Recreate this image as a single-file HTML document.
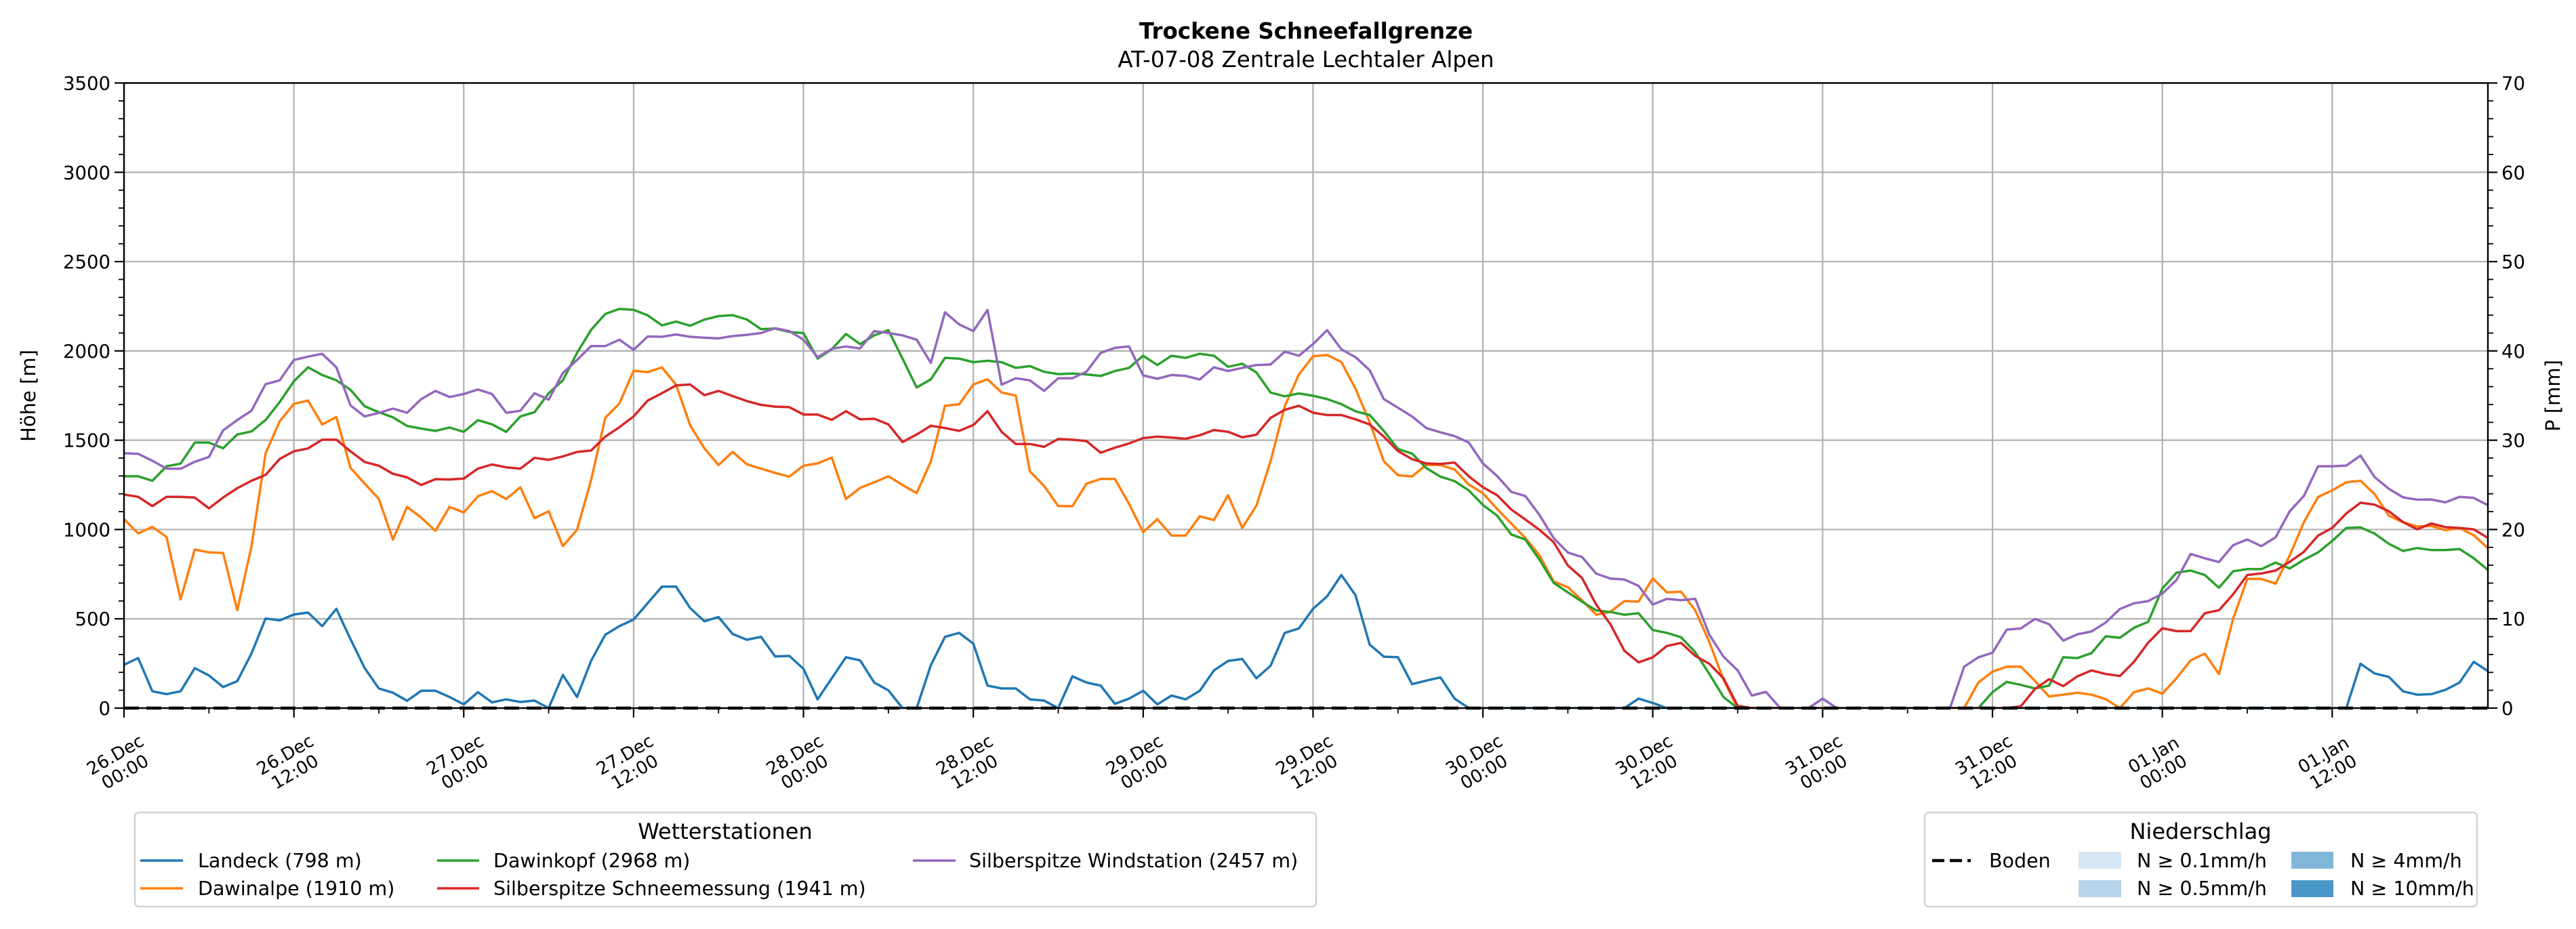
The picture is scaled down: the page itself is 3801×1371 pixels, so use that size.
<!DOCTYPE html>
<html><head><meta charset="utf-8">
<style>
html,body{margin:0;padding:0;background:#fff;}
svg{display:block;font-family:"DejaVu Sans","Liberation Sans",sans-serif;}
</style></head>
<body>
<svg id="chart" width="3801" height="1371" viewBox="0 0 3801 1371" xmlns="http://www.w3.org/2000/svg">
<rect x="0" y="0" width="3801" height="1371" fill="#fff"/>
<text x="1927" y="57" text-anchor="middle" font-size="32.5" font-weight="bold">Trockene Schneefallgrenze</text>
<text x="1927" y="99" text-anchor="middle" font-size="32.5">AT-07-08 Zentrale Lechtaler Alpen</text>
<defs><clipPath id="plotclip"><rect x="183" y="122" width="3488" height="923"/></clipPath></defs>
<g id="grid"></g>
<g id="series" clip-path="url(#plotclip)"></g>
<line x1="183" y1="1045" x2="3671" y2="1045" stroke="#000" stroke-width="4.5" stroke-dasharray="22,11"/>
<g id="axes"></g>
<text transform="translate(52,584) rotate(-90)" text-anchor="middle" font-size="29">Höhe [m]</text>
<text transform="translate(3777,584) rotate(-90)" text-anchor="middle" font-size="29">P [mm]</text>

<g>
<rect x="199" y="1199" width="1743" height="139" rx="6" fill="#fff" stroke="#d4d4d4" stroke-width="2.5"/>
<text x="1070" y="1238" text-anchor="middle" font-size="32">Wetterstationen</text>
<g><line x1="207" y1="1270" x2="270" y2="1270" stroke="#1f77b4" stroke-width="3.5"/><text x="292" y="1280" font-size="28.5">Landeck (798 m)</text></g>
<g><line x1="207" y1="1311" x2="270" y2="1311" stroke="#ff7f0e" stroke-width="3.5"/><text x="292" y="1321" font-size="28.5">Dawinalpe (1910 m)</text></g>
<g><line x1="645" y1="1270" x2="707" y2="1270" stroke="#2ca02c" stroke-width="3.5"/><text x="728" y="1280" font-size="28.5">Dawinkopf (2968 m)</text></g>
<g><line x1="645" y1="1311" x2="707" y2="1311" stroke="#d62728" stroke-width="3.5"/><text x="728" y="1321" font-size="28.5">Silberspitze Schneemessung (1941 m)</text></g>
<g><line x1="1347" y1="1270" x2="1410" y2="1270" stroke="#9467bd" stroke-width="3.5"/><text x="1430" y="1280" font-size="28.5">Silberspitze Windstation (2457 m)</text></g>
</g>

<g>
<rect x="2840" y="1199" width="815" height="139" rx="6" fill="#fff" stroke="#d4d4d4" stroke-width="2.5"/>
<text x="3247" y="1238" text-anchor="middle" font-size="32">Niederschlag</text>
<g><line x1="2851" y1="1270" x2="2908" y2="1270" stroke="#000" stroke-width="4.5" stroke-dasharray="18,8"/><text x="2935" y="1280" font-size="28.5">Boden</text></g>
<g><rect x="3067" y="1257" width="63" height="25" fill="#d6e6f4"/><text x="3153" y="1280" font-size="28.5">N ≥ 0.1mm/h</text></g>
<g><rect x="3067" y="1299" width="63" height="25" fill="#b7d4ea"/><text x="3153" y="1321" font-size="28.5">N ≥ 0.5mm/h</text></g>
<g><rect x="3381" y="1257" width="62" height="25" fill="#80b7d9"/><text x="3468" y="1280" font-size="28.5">N ≥ 4mm/h</text></g>
<g><rect x="3381" y="1299" width="62" height="25" fill="#4a98c9"/><text x="3468" y="1321" font-size="28.5">N ≥ 10mm/h</text></g>
</g>
</svg>
<script>
const xTickLabels = ["26.Dec|00:00","26.Dec|12:00","27.Dec|00:00","27.Dec|12:00","28.Dec|00:00","28.Dec|12:00","29.Dec|00:00","29.Dec|12:00","30.Dec|00:00","30.Dec|12:00","31.Dec|00:00","31.Dec|12:00","01.Jan|00:00","01.Jan|12:00"];
const yTicks = [0,500,1000,1500,2000,2500,3000,3500];
const y2Ticks = [0,10,20,30,40,50,60,70];
const landeck = [243,280,94,78,94,224,183,118,151,305,502,491,524,535,459,556,386,224,110,86,41,97,97,62,21,89,32,49,34,42,0,186,62,265,411,459,496,588,680,680,560,486,
510,415,383,399,289,292,220,49,167,285,267,143,99,0,0,240,399,421,361,126,110,110,49,42,0,178,143,126,24,53,97,21,70,49,97,211,264,275,167,237,421,446,
556,626,745,632,356,288,285,134,154,172,53,0,0,0,0,0,0,0,0,0,0,0,0,53,29,0,0,0,0,0,0,0,0,0,0,0,0,0,0,0,0,0,
0,0,0,0,0,0,0,0,0,0,0,0,0,0,0,0,0,0,0,0,0,0,0,0,0,0,0,0,0,0,0,0,248,194,175,94,75,78,102,143,259,207];
const dawinalpe = [1058,978,1015,958,609,888,872,869,548,904,1426,1606,1703,1722,1588,1630,1345,1257,1171,944,1127,1066,993,1127,1095,1186,1215,1171,1236,1063,1102,907,998,1277,1625,1706,1889,1881,1908,1810,1583,1455,
1361,1435,1365,1341,1317,1296,1357,1370,1403,1171,1233,1264,1298,1249,1204,1381,1693,1701,1812,1841,1767,1750,1325,1244,1131,1131,1257,1283,1283,1144,985,1058,966,966,1074,1053,1192,1009,1134,1382,1690,1868,
1970,1977,1938,1788,1601,1382,1304,1297,1362,1361,1336,1252,1203,1115,1034,953,855,709,677,604,523,539,599,596,726,648,652,547,369,159,0,0,0,0,0,0,0,0,0,0,0,0,
0,0,0,0,0,143,204,232,232,152,65,75,86,75,50,0,89,110,81,167,267,305,191,499,723,723,697,855,1041,1182,1219,1264,1273,1198,1077,1041,1017,1020,996,1009,968,896];
const dawinkopf = [1298,1298,1273,1354,1369,1487,1487,1455,1532,1549,1613,1714,1830,1908,1865,1835,1782,1690,1657,1628,1580,1565,1552,1571,1547,1612,1589,1547,1633,1657,1763,1835,1989,2118,2207,2235,2230,2199,2143,2164,2141,2175,
2195,2200,2176,2122,2125,2106,2100,1957,2009,2095,2038,2087,2116,1957,1795,1841,1961,1957,1937,1945,1937,1905,1915,1883,1870,1873,1868,1860,1887,1905,1973,1921,1973,1961,1984,1973,1911,1928,1879,1767,1746,1762,
1749,1730,1702,1662,1641,1552,1451,1425,1344,1296,1271,1219,1138,1078,972,944,831,701,648,596,547,538,523,531,437,421,397,313,191,62,0,0,0,0,0,0,0,0,0,0,0,0,
0,0,0,0,0,0,89,147,130,110,126,285,280,308,402,394,450,483,669,758,770,745,674,766,778,778,815,782,831,872,936,1009,1012,977,920,880,896,885,885,891,839,774];
const schneemessung = [1196,1183,1131,1183,1183,1179,1118,1179,1231,1273,1306,1395,1438,1454,1503,1503,1438,1378,1357,1312,1292,1249,1282,1280,1285,1341,1364,1348,1341,1401,1390,1409,1434,1442,1520,1573,1633,1722,1763,1807,1812,1752,
1776,1747,1719,1698,1688,1685,1644,1644,1614,1662,1617,1620,1589,1490,1532,1581,1568,1552,1585,1662,1547,1479,1479,1463,1507,1503,1495,1430,1458,1482,1512,1520,1515,1508,1528,1557,1547,1516,1531,1625,1670,1693,
1654,1641,1641,1617,1588,1520,1439,1394,1370,1367,1375,1298,1237,1192,1112,1056,998,929,799,729,580,470,321,256,284,348,365,292,248,167,13,0,0,0,0,0,0,0,0,0,0,0,
0,0,0,0,0,0,0,0,10,107,162,123,178,211,191,180,259,366,447,431,431,531,548,637,745,754,770,819,875,966,1009,1090,1150,1139,1102,1042,1001,1034,1013,1009,1001,953];
const windstation = [1427,1424,1385,1341,1340,1379,1406,1555,1613,1665,1814,1835,1949,1968,1984,1908,1695,1633,1653,1677,1654,1730,1776,1742,1759,1784,1759,1654,1665,1763,1727,1876,1949,2027,2027,2063,2006,2081,2079,2092,2079,2074,
2070,2083,2090,2100,2127,2111,2063,1965,2012,2025,2014,2111,2100,2087,2063,1933,2216,2148,2111,2229,1811,1847,1835,1776,1847,1847,1884,1989,2017,2025,1863,1844,1865,1860,1840,1908,1887,1905,1921,1924,1996,1973,
2038,2116,2009,1965,1892,1730,1682,1633,1568,1544,1523,1487,1370,1300,1211,1187,1081,952,871,846,753,725,720,684,580,612,604,612,410,288,211,70,91,0,0,0,53,0,0,0,0,0,
0,0,0,0,232,284,310,439,446,499,470,378,413,429,479,555,587,599,641,717,863,839,818,912,944,907,956,1102,1188,1354,1354,1358,1414,1293,1228,1180,1167,1168,1152,1183,1177,1136];

const NS='http://www.w3.org/2000/svg';
const X0=183, X1=3671, Y0=1045, Y1=122.5, HMAX=167, VMAX=3500, PMAX=70;
function xs(h){return X0+(X1-X0)*h/HMAX;}
function ys(v){return Y0-(Y0-Y1)*v/VMAX;}
function y2s(p){return Y0-(Y0-Y1)*p/PMAX;}
function mk(tag,attrs,parent){const e=document.createElementNS(NS,tag);for(const k in attrs)e.setAttribute(k,attrs[k]);parent.appendChild(e);return e;}
const grid=document.getElementById('grid'), axes=document.getElementById('axes'), series=document.getElementById('series');

yTicks.forEach(function(v){
  const g=mk('line',{x1:X0,x2:X1,y1:ys(v),y2:ys(v),stroke:'#b0b0b0','stroke-width':2.2},grid);
  
  
  const t=mk('line',{x1:X0-14,x2:X0,y1:ys(v),y2:ys(v),stroke:'#000','stroke-width':2.2},axes);
  
  
  const l=mk('text',{x:X0-20,y:ys(v)+10,'text-anchor':'end','font-size':27.5},axes);
  
  
  l.textContent=String(v);
});
for(let v=100;v<VMAX;v+=100){ if(v%500===0)continue;
  const t=mk('line',{x1:X0-8,x2:X0,y1:ys(v),y2:ys(v),stroke:'#000','stroke-width':1.8},axes);
  
  
}
y2Ticks.forEach(function(p){
  const t=mk('line',{x1:X1,x2:X1+14,y1:y2s(p),y2:y2s(p),stroke:'#000','stroke-width':2.2},axes);
  
  
  const l=mk('text',{x:X1+20,y:y2s(p)+10,'font-size':27.5},axes);
  
  
  l.textContent=String(p);
});
for(let p=2;p<PMAX;p+=2){ if(p%10===0)continue;
  const t=mk('line',{x1:X1,x2:X1+8,y1:y2s(p),y2:y2s(p),stroke:'#000','stroke-width':1.8},axes);
  
  
}
xTickLabels.forEach(function(lab,i){
  const h=i*12, x=xs(h);
  const g=mk('line',{x1:x,x2:x,y1:Y1,y2:Y0,stroke:'#b0b0b0','stroke-width':2.2},grid);
  
  
  const t=mk('line',{x1:x,x2:x,y1:Y0,y2:Y0+14,stroke:'#000','stroke-width':2.2},axes);
  
  
  const m=mk('line',{x1:xs(h+6),x2:xs(h+6),y1:Y0,y2:Y0+8,stroke:'#000','stroke-width':1.8},axes);
  
  
  const parts=lab.split('|');
  const tg=mk('g',{transform:'translate('+(x-6)+',1126) rotate(-30)','font-size':26,'text-anchor':'middle'},axes);
  
  
  mk('text',{x:0,y:-5},tg).textContent=parts[0];
  mk('text',{x:0,y:24},tg).textContent=parts[1];
});
const frame=mk('rect',{x:X0,y:Y1,width:X1-X0,height:Y0-Y1,fill:'none',stroke:'#000','stroke-width':2.4},axes);



const seriesList=[[landeck,'#1f77b4','line-landeck'],[dawinalpe,'#ff7f0e','line-dawinalpe'],[dawinkopf,'#2ca02c','line-dawinkopf'],[schneemessung,'#d62728','line-silberspitze-schneemessung'],[windstation,'#9467bd','line-silberspitze-windstation']];
seriesList.forEach(function(s){
  const d=s[0].map(function(v,i){return (i?'L':'M')+xs(i).toFixed(1)+','+ys(v).toFixed(1);}).join('');
  const p=mk('path',{d:d,fill:'none',stroke:s[1],'stroke-width':3.5,'stroke-linejoin':'round'},series);
  
  
});
</script>
</body></html>
